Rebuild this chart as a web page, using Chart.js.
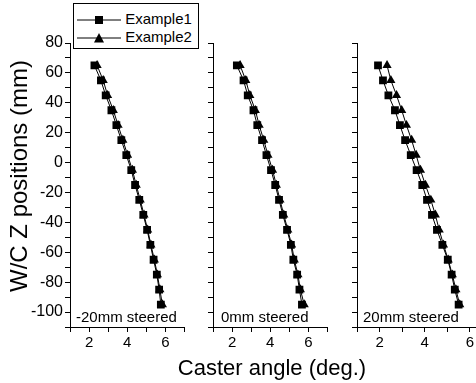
<!DOCTYPE html>
<html>
<head>
<meta charset="utf-8">
<script src="https://cdn.jsdelivr.net/npm/chart.js@4/dist/chart.umd.min.js"></script>
<style>
  html, body { margin: 0; padding: 0; background: #fff; }
  body { width: 476px; height: 383px; overflow: hidden; position: relative;
         font-family: "Liberation Sans", Arial, sans-serif; color: #000; }
  .panel { position: absolute; top: 0; height: 383px; }
  .lbl { position: absolute; font-size: 15px; white-space: nowrap; }
  #legend { position: absolute; left: 73px; top: 3px; width: 124px; height: 44px;
            border: 1px solid #000; background: #fff; font-size: 15px; }
  #legend div { position: absolute; left: 3px; height: 18px; line-height: 18px; }
  #legend svg { vertical-align: middle; }
  #ytitle { position: absolute; left: 19px; top: 176px; font-size: 24px; white-space: nowrap;
            transform: translate(-50%, -50%) rotate(-90deg); }
  #xtitle { position: absolute; left: 272px; top: 368px; font-size: 22px; white-space: nowrap;
            transform: translate(-50%, -50%); }
</style>
</head>
<body>
<div class="panel" style="left:0;width:190px"><canvas id="chart1"></canvas></div>
<div class="panel" style="left:200px;width:133px"><canvas id="chart2"></canvas></div>
<div class="panel" style="left:344px;width:154px"><canvas id="chart3"></canvas></div>

<div id="legend">
  <div style="top:6px"><svg width="44" height="10"><line x1="0" y1="5" x2="44" y2="5" stroke="#000" stroke-width="1"/><rect x="18" y="1" width="8" height="8" fill="#000"/></svg> Example1</div>
  <div style="top:24px"><svg width="44" height="10"><line x1="0" y1="5" x2="44" y2="5" stroke="#000" stroke-width="1"/><polygon points="22,0 27,9.5 17,9.5" fill="#000"/></svg> Example2</div>
</div>

<div class="lbl" style="left:76px;top:308px">-20mm steered</div>
<div class="lbl" style="left:221px;top:308px">0mm steered</div>
<div class="lbl" style="left:363px;top:308px">20mm steered</div>

<div id="ytitle">W/C Z positions (mm)</div>
<div id="xtitle">Caster angle (deg.)</div>

<script>
var zPositions = [65, 55, 45, 35, 25, 15, 5, -5, -15, -25, -35, -45, -55, -65, -75, -85, -95];

// -20mm steered
var p1Example1 = [2.28, 2.62, 2.87, 3.17, 3.43, 3.69, 3.95, 4.21, 4.41, 4.63, 4.84, 5.04, 5.21, 5.38, 5.55, 5.67, 5.76];
var p1Example2 = [2.42, 2.74, 2.97, 3.27, 3.52, 3.77, 4.02, 4.27, 4.47, 4.68, 4.88, 5.07, 5.24, 5.42, 5.58, 5.71, 5.84];
// 0mm steered
var p2Example1 = [2.25, 2.60, 2.82, 3.12, 3.32, 3.57, 3.80, 4.04, 4.26, 4.46, 4.66, 4.88, 5.08, 5.21, 5.41, 5.53, 5.66];
var p2Example2 = [2.42, 2.72, 2.93, 3.22, 3.42, 3.66, 3.88, 4.12, 4.32, 4.51, 4.71, 4.92, 5.12, 5.26, 5.45, 5.58, 5.78];
// 20mm steered
var p3Example1 = [1.93, 2.15, 2.39, 2.68, 2.90, 3.13, 3.38, 3.64, 3.89, 4.10, 4.32, 4.54, 4.78, 5.02, 5.19, 5.33, 5.50];
var p3Example2 = [2.33, 2.50, 2.75, 2.98, 3.19, 3.42, 3.62, 3.81, 4.03, 4.27, 4.47, 4.64, 4.83, 5.04, 5.22, 5.38, 5.55];

var xMin = 1, xMax = 7;
var yMin = -110, yMax = 80;

var toPoints = function (xs) {
    var data = [];
    for (var i = 0; i < xs.length; ++i) {
        data.push({x: xs[i], y: zPositions[i]});
    }
    return data;
};

var makeChart = function (id, ex1, ex2, yLabels, yWidth) {
    var ctx = document.getElementById(id).getContext('2d');
    return new Chart(ctx, {
        type: 'scatter',
        data: {
            datasets: [
                {
                    label: 'Example1',
                    data: toPoints(ex1),
                    showLine: true,
                    borderColor: '#000',
                    backgroundColor: '#000',
                    borderWidth: 1,
                    pointStyle: 'rect',
                    pointRadius: 5.5,
                    pointBorderWidth: 0
                },
                {
                    label: 'Example2',
                    data: toPoints(ex2),
                    showLine: true,
                    borderColor: '#000',
                    backgroundColor: '#000',
                    borderWidth: 1,
                    pointStyle: 'triangle',
                    pointRadius: 5.3,
                    pointBorderWidth: 0
                }
            ]
        },
        options: {
            responsive: true,
            maintainAspectRatio: false,
            animation: false,
            layout: {padding: {top: 43, right: 3, bottom: 26, left: 0}},
            plugins: {legend: {display: false}, tooltip: {enabled: false}},
            scales: {
                x: {
                    type: 'linear',
                    min: xMin,
                    max: xMax,
                    afterFit: function (scale) { scale.height = 30; },
                    ticks: {
                        stepSize: 1,
                        autoSkip: false,
                        maxRotation: 0,
                        color: '#000',
                        padding: 2,
                        font: {family: 'Liberation Sans', size: 15},
                        callback: function (v) { return v % 2 === 0 ? v : ''; }
                    },
                    grid: {drawOnChartArea: false, drawTicks: true, tickLength: 5, color: '#000'},
                    border: {display: true, color: '#000', width: 1}
                },
                y: {
                    type: 'linear',
                    min: yMin,
                    max: yMax,
                    afterFit: function (scale) { scale.width = yWidth; },
                    ticks: {
                        stepSize: 10,
                        autoSkip: false,
                        color: '#000',
                        padding: 2,
                        font: {family: 'Liberation Sans', size: 16},
                        callback: function (v) { return (yLabels && v % 20 === 0) ? v : ''; }
                    },
                    grid: {drawOnChartArea: false, drawTicks: true, tickLength: 5, color: '#000'},
                    border: {display: true, color: '#000', width: 1}
                }
            }
        }
    });
};

makeChart('chart1', p1Example1, p1Example2, true, 70);
makeChart('chart2', p2Example1, p2Example2, false, 13);
makeChart('chart3', p3Example1, p3Example2, false, 13);
</script>
</body>
</html>
